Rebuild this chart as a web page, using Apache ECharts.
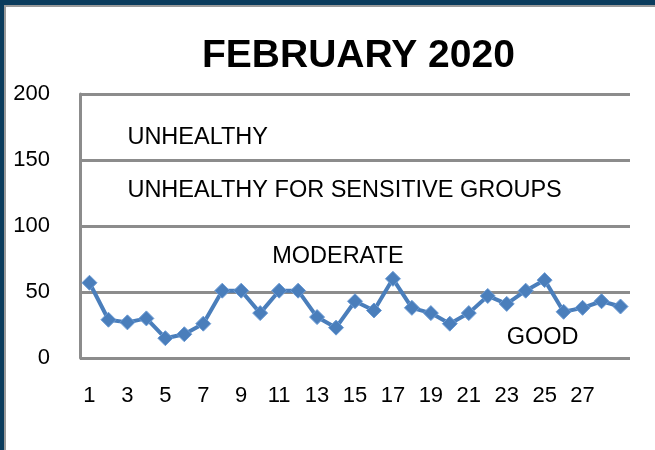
<!DOCTYPE html>
<html>
<head>
<meta charset="utf-8">
<script src="https://cdn.jsdelivr.net/npm/echarts@6/dist/echarts.min.js"></script>
<style>
  html, body { margin: 0; padding: 0; background: #fff; }
  #main { position: absolute; left: 0; top: 0; width: 655px; height: 450px; }
  .edgeTop { position: absolute; left: 0; top: 0; width: 655px; height: 5px; background: #0b3c5d; }
  .edgeLeft { position: absolute; left: 0; top: 0; width: 4px; height: 450px; background: #0b3c5d; }
  .lineTop { position: absolute; left: 4px; top: 5px; width: 651px; height: 2px; background: #9a9a9a; }
  .lineLeft { position: absolute; left: 4px; top: 5px; width: 2px; height: 445px; background: #9a9a9a; }
</style>
</head>
<body>
<div id="main"></div>
<div class="edgeTop"></div><div class="edgeLeft"></div>
<div class="lineTop"></div><div class="lineLeft"></div>
<script>
// days of february
var days = ['1','2','3','4','5','6','7','8','9','10','11','12','13','14','15',
  '16','17','18','19','20','21','22','23','24','25','26','27','28','29'];
// daily AQI values
var aqi = [57, 29, 27, 30, 15, 18, 26, 51, 51, 34, 51, 51, 31, 23, 43,
  36, 60, 38, 34, 26, 34, 47, 41, 51, 59, 35, 38, 43, 39];
// y axis ticks
var yMin = 0, yMax = 200, yStep = 50;
// category band labels: [text, day, value]
var bandNames = ['UNHEALTHY', 'UNHEALTHY FOR SENSITIVE GROUPS', 'MODERATE', 'GOOD'];
var bandDays = ['3', '3', '11', '23'];
var bandValues = [167, 127, 77, 15.5];

var chart = echarts.init(document.getElementById('main'));

var marks = [];
for (var i = 0; i < bandNames.length; i++) {
  marks.push({
    name: bandNames[i],
    coord: [bandDays[i], bandValues[i]],
    label: { offset: bandNames[i] == 'MODERATE' ? [-7, 0] : [0, 0] }
  });
}

var option = {
  animation: false,
  textStyle: { fontFamily: 'Liberation Sans, Arial, sans-serif' },
  title: {
    text: 'FEBRUARY 2020',
    left: 197,
    top: 32,
    textStyle: { fontSize: 39, fontWeight: 'bold', color: '#000',
      fontFamily: 'Liberation Sans, Arial, sans-serif' }
  },
  grid: { left: 80, right: 25, top: 94, bottom: 92 },
  xAxis: {
    type: 'category',
    data: days,
    boundaryGap: true,
    axisLine: { show: false },
    axisTick: { show: false },
    axisLabel: {
      color: '#000', fontSize: 22, margin: 27,
      interval: function (idx) { return idx % 2 === 0 && idx < 28; }
    }
  },
  yAxis: {
    type: 'value',
    min: yMin, max: yMax, interval: yStep,
    axisLine: { show: true, lineStyle: { color: '#8c8c8c', width: 3 } },
    axisTick: { show: false },
    axisLabel: { color: '#000', fontSize: 22, margin: 30 },
    splitLine: { show: true, lineStyle: { color: '#8c8c8c', width: 3 } }
  },
  series: [{
    type: 'line',
    data: aqi,
    symbol: 'diamond',
    symbolSize: 15,
    showAllSymbol: true,
    lineStyle: { color: '#4a7ebb', width: 4 },
    itemStyle: { color: '#4a7ebb', borderColor: '#6a9ad4', borderWidth: 1 },
    markPoint: {
      symbol: 'circle',
      symbolSize: 0,
      data: marks,
      label: {
        show: true,
        position: 'right',
        distance: 0,
        formatter: '{b}',
        color: '#000',
        fontSize: 23.5,
        fontFamily: 'Liberation Sans, Arial, sans-serif'
      }
    }
  }]
};

chart.setOption(option);
</script>
</body>
</html>
